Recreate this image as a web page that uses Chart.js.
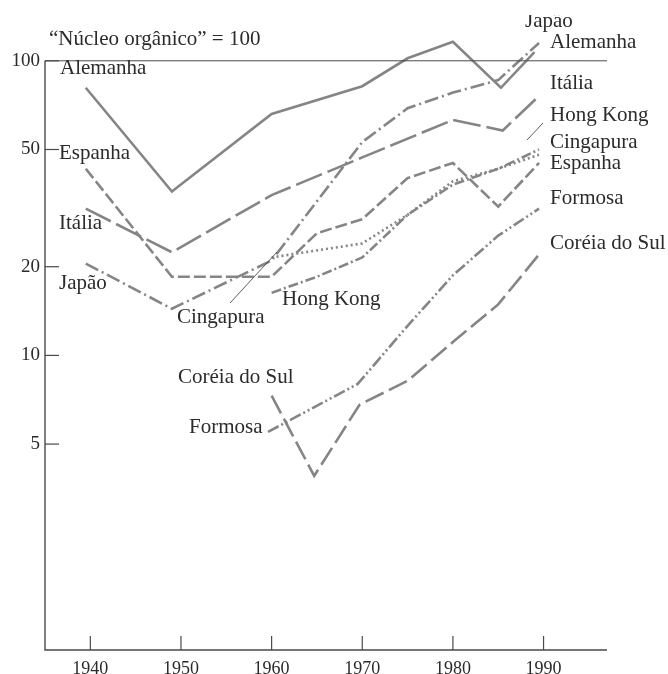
<!DOCTYPE html>
<html>
<head>
<meta charset="utf-8">
<script src="https://cdn.jsdelivr.net/npm/chart.js@4"></script>
<style>
  body { margin: 0; background: #fff; }
  canvas { display: block; }
</style>
</head>
<body>
<canvas id="grafico" width="668" height="674"></canvas>
<script>
// dados (índice, "núcleo orgânico" = 100)
const anosEixo = [1940, 1950, 1960, 1970, 1980, 1990];
const valoresEixo = [5, 10, 20, 50, 100];

const alemanhaAnos = [1939.5, 1949, 1960, 1970, 1975, 1980, 1985.3, 1989];
const alemanhaValores = [81, 36, 66, 82, 102, 116, 81, 107];

const japaoAnos = [1939.5, 1949, 1960, 1970, 1975, 1980, 1985, 1989.5];
const japaoValores = [20.5, 14.4, 21, 53, 69, 78, 86, 115];

const italiaAnos = [1939.5, 1949, 1960, 1970, 1980, 1985.5, 1989.5];
const italiaValores = [31.5, 22.4, 35, 47, 63, 58, 76];

const espanhaAnos = [1939.5, 1949, 1960, 1965, 1970, 1975, 1980, 1985, 1989.5];
const espanhaValores = [43, 18.5, 18.5, 26, 29, 40, 45, 32, 45];

const hongKongAnos = [1960, 1965, 1970, 1975, 1980, 1985, 1989.5];
const hongKongValores = [16.3, 18.5, 21.5, 30, 38, 43, 50];

const cingapuraAnos = [1960, 1970, 1975, 1980, 1985, 1989.5];
const cingapuraValores = [21.5, 24, 30, 39, 43, 48];

const formosaAnos = [1959.6, 1969.5, 1975, 1980, 1985, 1989.5];
const formosaValores = [5.5, 8, 12.6, 18.7, 25.5, 31.5];

const coreiaAnos = [1960, 1964.7, 1969.7, 1975, 1980, 1985, 1989.5];
const coreiaValores = [7.3, 3.9, 6.8, 8.2, 11.1, 14.9, 22];

const fonte = "'Liberation Serif', 'DejaVu Serif', serif";
const corTexto = '#2b2b2b';
const corLinha = '#858585';

function serie(anos, valores, tracejado) {
    return {
        data: anos.map((a, i) => ({ x: a, y: valores[i] })),
        borderColor: corLinha,
        borderWidth: 2.6,
        borderDash: tracejado,
        pointRadius: 0,
        tension: 0,
        fill: false,
        clip: false
    };
}

// rótulos das curvas (texto, x, y em pixels)
const rotulos = [
    ['Alemanha', 60, 68], ['Espanha', 59, 153], ['Itália', 59, 223], ['Japão', 59, 283],
    ['Cingapura', 177, 317], ['Hong Kong', 282, 299], ['Coréia do Sul', 178, 377], ['Formosa', 189, 427],
    ['Alemanha', 550, 42], ['Itália', 550, 83], ['Hong Kong', 550, 115], ['Cingapura', 550, 142],
    ['Espanha', 550, 163], ['Formosa', 550, 198], ['Coréia do Sul', 550, 243]
];

const desenhoExtra = {
    id: 'desenhoExtra',
    afterDraw(chart) {
        const ctx = chart.ctx;
        const x = chart.scales.x;
        const y = chart.scales.y;
        const area = chart.chartArea;
        const y100 = y.getPixelForValue(100);

        ctx.save();
        ctx.strokeStyle = '#4a4a4a';
        ctx.lineWidth = 1.4;
        ctx.beginPath();
        ctx.moveTo(area.left, y100);
        ctx.lineTo(area.left, area.bottom);
        ctx.lineTo(area.right, area.bottom);
        ctx.stroke();

        // linha do 100
        ctx.lineWidth = 1;
        ctx.beginPath();
        ctx.moveTo(area.left, y100);
        ctx.lineTo(area.right, y100);
        ctx.stroke();

        // marcas dos eixos, para dentro
        ctx.lineWidth = 1.2;
        anosEixo.forEach(a => {
            const px = x.getPixelForValue(a);
            ctx.beginPath();
            ctx.moveTo(px, area.bottom);
            ctx.lineTo(px, area.bottom - 14);
            ctx.stroke();
        });
        valoresEixo.forEach(v => {
            const py = y.getPixelForValue(v);
            ctx.beginPath();
            ctx.moveTo(area.left, py);
            ctx.lineTo(area.left + 14, py);
            ctx.stroke();
        });

        // linhas de chamada
        ctx.lineWidth = 0.9;
        ctx.beginPath();
        ctx.moveTo(230, 303);
        ctx.lineTo(277, 252);
        ctx.moveTo(543, 123);
        ctx.lineTo(527, 140);
        ctx.stroke();

        ctx.fillStyle = corTexto;
        ctx.font = '21px ' + fonte;
        ctx.textBaseline = 'middle';
        ctx.textAlign = 'left';
        rotulos.forEach(([t, px, py]) => ctx.fillText(t, px, py));
        ctx.fillText('“Núcleo orgânico” = 100', 49, 39);

        // Japão cortado no alto da página
        ctx.beginPath();
        ctx.rect(500, 15, 120, 30);
        ctx.clip();
        ctx.textBaseline = 'alphabetic';
        ctx.fillText('Japão', 525, 27);
        ctx.restore();
    }
};

const grafico = document.getElementById('grafico').getContext('2d');

window.graficoNucleo = new Chart(grafico, {
    type: 'line',
    data: {
        datasets: [
            serie(alemanhaAnos, alemanhaValores, []),
            serie(japaoAnos, japaoValores, [14, 4, 2, 4]),
            serie(italiaAnos, italiaValores, [28, 6]),
            serie(espanhaAnos, espanhaValores, [12, 4]),
            serie(hongKongAnos, hongKongValores, [10, 3, 2, 3]),
            serie(cingapuraAnos, cingapuraValores, [2, 3]),
            serie(formosaAnos, formosaValores, [12, 3, 2, 3, 2, 3]),
            serie(coreiaAnos, coreiaValores, [20, 6])
        ]
    },
    options: {
        responsive: false,
        animation: false,
        layout: { padding: { top: 8, right: 61, left: 0, bottom: 0 } },
        plugins: {
            legend: { display: false },
            tooltip: { enabled: false }
        },
        scales: {
            x: {
                type: 'linear',
                min: 1935,
                max: 1997,
                afterFit: s => { s.height = 24; },
                afterBuildTicks: s => { s.ticks = anosEixo.map(v => ({ value: v })); },
                grid: { display: false, drawTicks: false },
                border: { display: false },
                ticks: {
                    padding: 8,
                    color: corTexto,
                    font: { family: fonte, size: 18 },
                    callback: v => String(v)
                }
            },
            y: {
                type: 'logarithmic',
                min: 1,
                max: 141.5,
                afterFit: s => { s.width = 45; },
                afterBuildTicks: s => { s.ticks = valoresEixo.map(v => ({ value: v })); },
                grid: { display: false, drawTicks: false },
                border: { display: false },
                ticks: {
                    padding: 5,
                    color: corTexto,
                    font: { family: fonte, size: 19 },
                    callback: v => String(v)
                }
            }
        }
    },
    plugins: [desenhoExtra]
});
</script>
</body>
</html>
